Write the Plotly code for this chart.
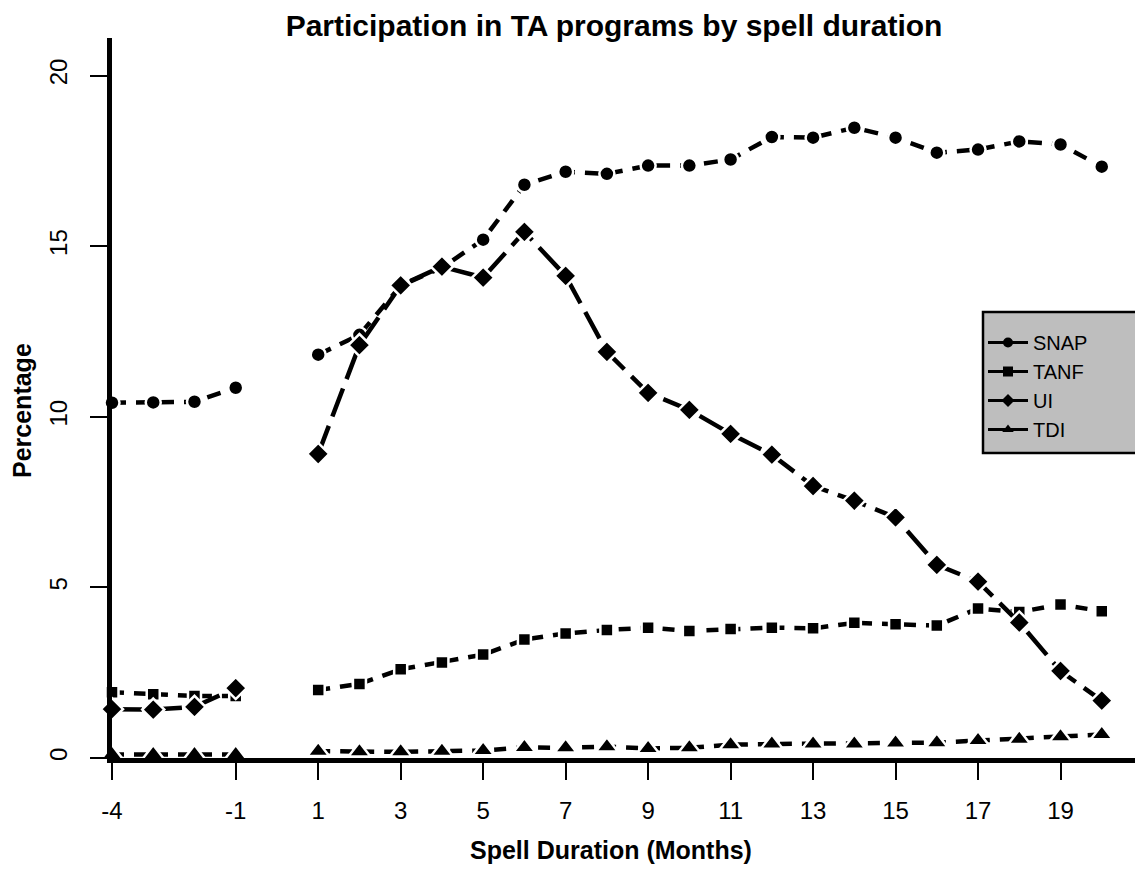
import plotly.graph_objects as go

months = [-4, -3, -2, -1, 1, 2, 3, 4, 5, 6, 7, 8, 9, 10, 11, 12, 13, 14, 15, 16, 17, 18, 19, 20]

snap = [10.41, 10.42, 10.44, 10.85, 11.82, 12.4, 13.84, 14.37, 15.19, 16.8, 17.18, 17.12,
        17.36, 17.36, 17.54, 18.2, 18.18, 18.47, 18.18, 17.74, 17.83, 18.07, 17.98, 17.33]
tanf = [1.93, 1.87, 1.82, 1.82, 1.99, 2.17, 2.6, 2.8, 3.03, 3.47, 3.65, 3.75,
        3.82, 3.72, 3.78, 3.82, 3.8, 3.96, 3.92, 3.88, 4.38, 4.28, 4.5, 4.3]
ui = [1.43, 1.42, 1.5, 2.05, 8.91, 12.1, 13.85, 14.4, 14.08, 15.42, 14.13, 11.9,
      10.7, 10.2, 9.5, 8.89, 7.97, 7.54, 7.05, 5.66, 5.17, 3.97, 2.55, 1.68]
tdi = [0.1, 0.1, 0.1, 0.1, 0.2, 0.18, 0.18, 0.2, 0.22, 0.31, 0.3, 0.33,
       0.28, 0.3, 0.39, 0.41, 0.41, 0.41, 0.44, 0.45, 0.51, 0.55, 0.62, 0.69]

series_names = ["SNAP", "TANF", "UI", "TDI"]
x_tickvals = [-4, -1, 1, 3, 5, 7, 9, 11, 13, 15, 17, 19]
x_ticktext = ["-4", "-1", "1", "3", "5", "7", "9", "11", "13", "15", "17", "19"]
y_tickvals = [0, 5, 10, 15, 20]

FONT = "Liberation Sans, Arial, sans-serif"

# page body has an 8px margin, so the figure is 8px smaller than the window
W, H = 1135, 864
ML, MT = 104, 30
PLOT_W = W - ML          # 1031
PLOT_BOTTOM = 750
PLOT_H = PLOT_BOTTOM - MT  # 720

styles = {
    "SNAP": dict(symbol="circle", size=15, dash="14px,10px"),
    "TANF": dict(symbol="square", size=13, dash="12px,10px"),
    "UI": dict(symbol="diamond", size=17, dash="30px,10px"),
    "TDI": dict(symbol="triangle-up", size=19, dash="12px,10px"),
}
data = {"SNAP": snap, "TANF": tanf, "UI": ui, "TDI": tdi}

fig = go.Figure()


def segments(xs, ys):
    # the series break between month -1 and month 1 (there is no month 0)
    left = [(x, y) for x, y in zip(xs, ys) if x < 0]
    right = [(x, y) for x, y in zip(xs, ys) if x > 0]
    return [left, right]


for name in series_names:
    st = styles[name]
    for seg in segments(months, data[name]):
        fig.add_trace(go.Scatter(
            x=[p[0] for p in seg], y=[p[1] for p in seg],
            mode="lines+markers", showlegend=False, cliponaxis=False,
            line=dict(color="black", width=4.5, dash=st["dash"]),
            marker=dict(symbol=st["symbol"], size=st["size"], color="black",
                        line=dict(color="white", width=2.5)),
        ))

# legend entries (solid lines, as in the reference legend)
for name in series_names:
    st = styles[name]
    fig.add_trace(go.Scatter(
        x=[None], y=[None], name=name, mode="lines+markers",
        line=dict(color="black", width=3),
        marker=dict(symbol=st["symbol"], size=10, color="black"),
    ))


def px_x(p):
    return (p - ML) / PLOT_W


def px_y(p):
    return (PLOT_BOTTOM - p) / PLOT_H


fig.update_layout(
    width=W, height=H,
    margin=dict(l=ML, r=0, t=MT, b=H - PLOT_BOTTOM, autoexpand=False),
    paper_bgcolor="white", plot_bgcolor="white",
    font=dict(family=FONT, color="black", size=20),
    title=dict(text="<b>Participation in TA programs by spell duration</b>",
               x=606 / W, xref="container", xanchor="center",
               y=1 - 17 / H, yref="container", yanchor="middle",
               font=dict(size=30, family=FONT, color="black")),
    showlegend=True,
    legend=dict(x=px_x(975), y=px_y(315), xanchor="left", yanchor="top",
                bgcolor="rgba(0,0,0,0)", borderwidth=0,
                font=dict(size=20, family=FONT, color="black"),
                itemwidth=40, tracegroupgap=0),
    shapes=[dict(type="rect", xref="paper", yref="paper",
                 x0=px_x(975), x1=1.05, y0=px_y(445), y1=px_y(304),
                 fillcolor="#bebebe", line=dict(color="black", width=2.5), layer="above")],
    annotations=[
        dict(text="<b>Spell Duration (Months)</b>", xref="paper", yref="paper",
             x=px_x(603), y=px_y(842), xanchor="center", yanchor="middle",
             showarrow=False, font=dict(size=25, family=FONT, color="black")),
        dict(text="<b>Percentage</b>", xref="paper", yref="paper",
             x=px_x(14), y=px_y(402), xanchor="center", yanchor="middle",
             textangle=-90, showarrow=False, font=dict(size=25, family=FONT, color="black")),
    ],
)

fig.update_xaxes(
    range=[-4, 21], showgrid=False, zeroline=False,
    showline=True, linewidth=4.5, linecolor="black",
    tickmode="array", tickvals=x_tickvals, ticktext=x_ticktext,
    ticks="outside", ticklen=17, tickwidth=2, tickcolor="black",
    ticklabelstandoff=10, tickfont=dict(size=24, family=FONT, color="black"),
)
fig.update_yaxes(
    range=[0, 21.1], showgrid=False, zeroline=False,
    showline=True, linewidth=4.5, linecolor="black",
    tickmode="array", tickvals=y_tickvals,
    ticks="outside", ticklen=17, tickwidth=2, tickcolor="black",
    tickangle=-90, ticklabelstandoff=14,
    tickfont=dict(size=24, family=FONT, color="black"),
)

fig.write_html("out.html")
